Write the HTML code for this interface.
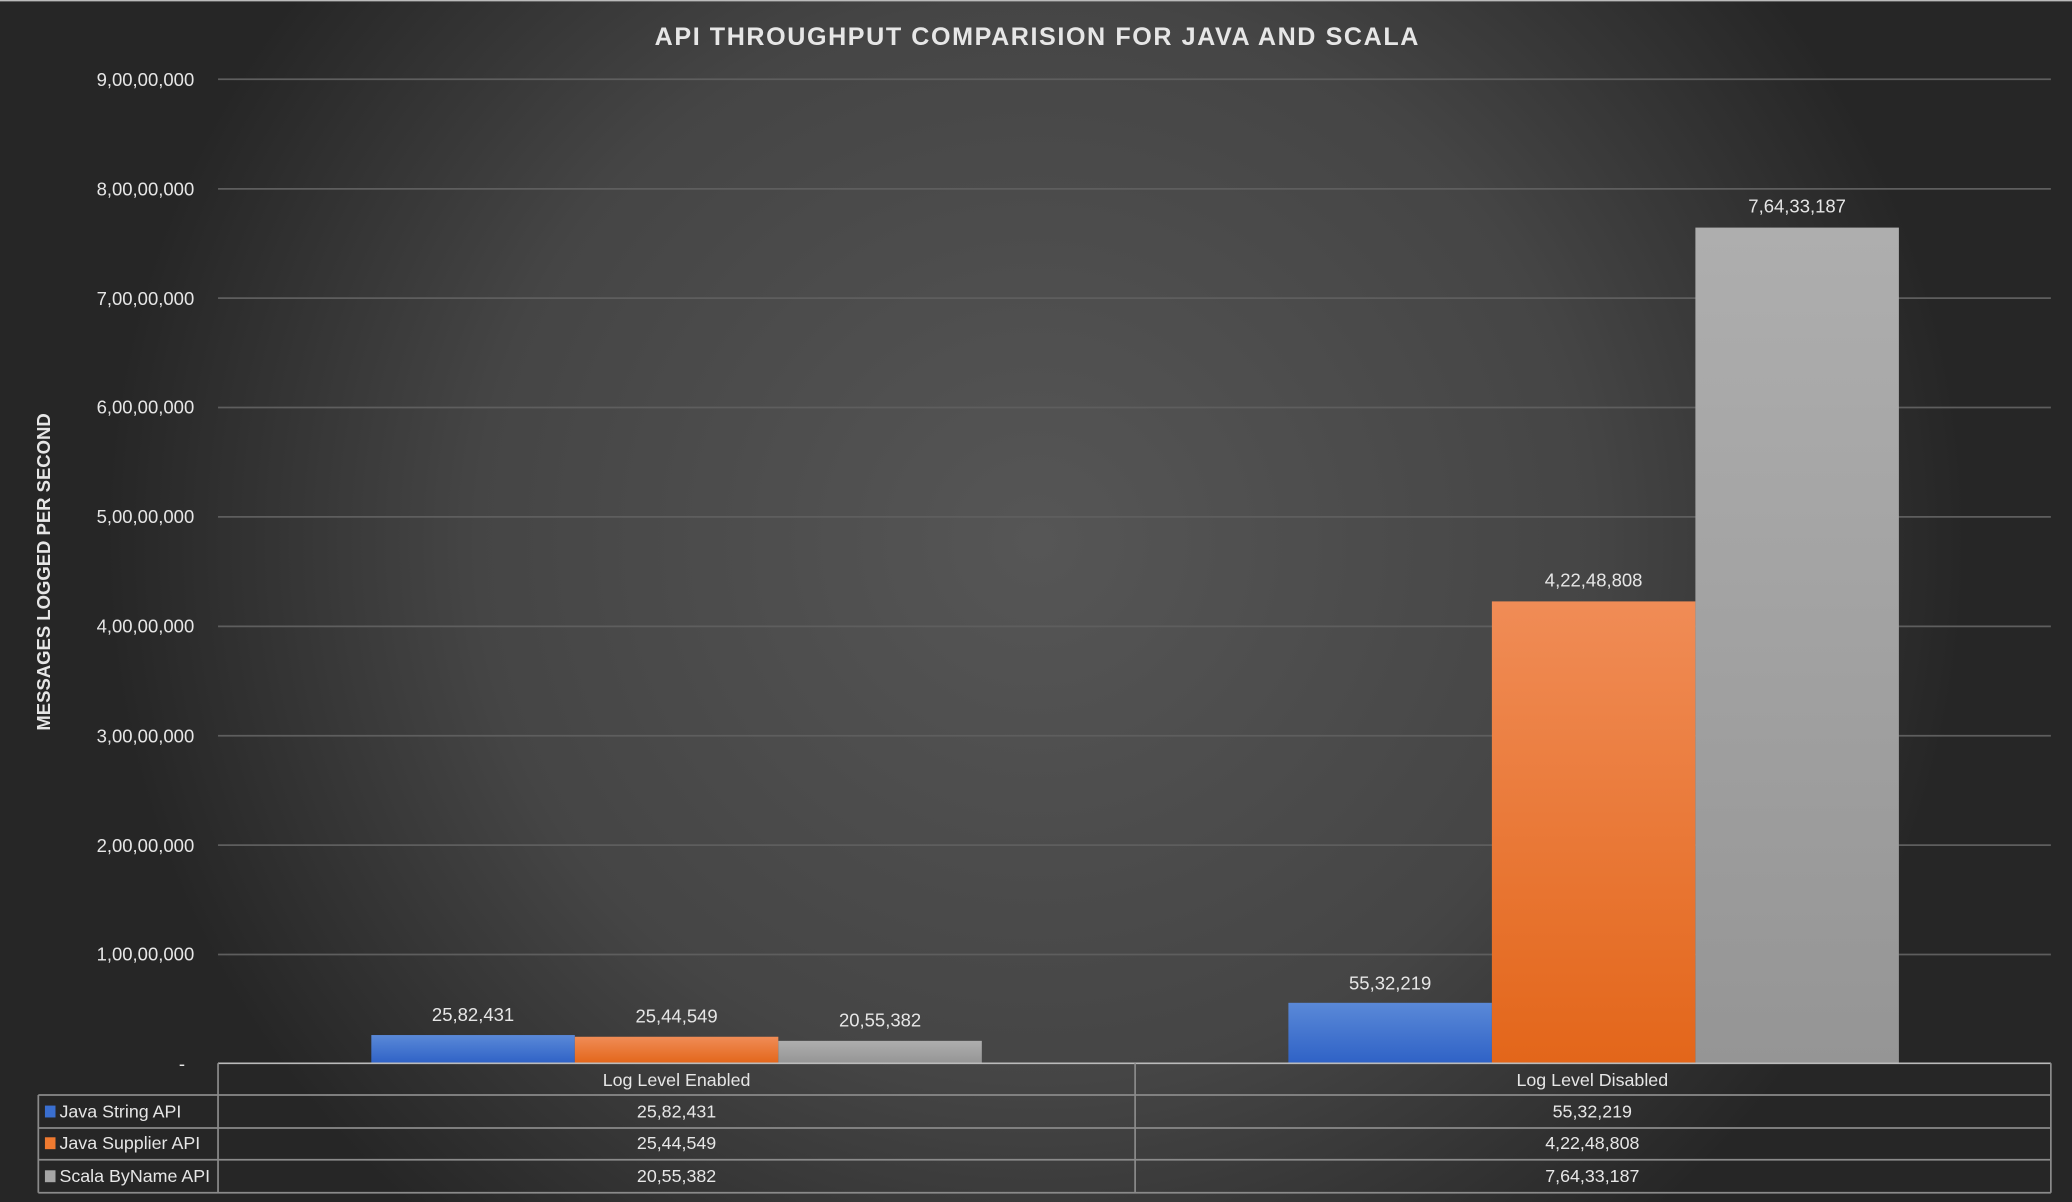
<!DOCTYPE html>
<html><head><meta charset="utf-8"><style>
html,body{margin:0;padding:0;background:#2a2a2a;overflow:hidden}
svg{display:block}
text{font-family:"Liberation Sans",sans-serif;fill:#e6e6e6}
</style></head><body>
<svg width="2072" height="1202" viewBox="0 0 1568 910" preserveAspectRatio="none" xmlns="http://www.w3.org/2000/svg">
<defs>
<radialGradient id="bg" cx="0.5" cy="0.45" r="0.75" gradientTransform="translate(0.5 0.45) scale(0.6 1) translate(-0.5 -0.45)">
<stop offset="0" stop-color="#565656"/><stop offset="0.6" stop-color="#454545"/><stop offset="1" stop-color="#262626"/>
</radialGradient>
<linearGradient id="bl" x1="0" y1="0" x2="0" y2="1"><stop offset="0" stop-color="#5a89d8"/><stop offset="1" stop-color="#2f62c6"/></linearGradient>
<linearGradient id="or" x1="0" y1="0" x2="0" y2="1"><stop offset="0" stop-color="#f08c56"/><stop offset="1" stop-color="#e3661a"/></linearGradient>
<linearGradient id="gr" x1="0" y1="0" x2="0" y2="1"><stop offset="0" stop-color="#aeaeae"/><stop offset="1" stop-color="#959595"/></linearGradient>
</defs>
<rect x="0" y="0" width="1568" height="910" fill="url(#bg)"/>
<line x1="0" y1="0.5" x2="1568" y2="0.5" stroke="#bbb" stroke-width="1"/>
<text x="785" y="34" text-anchor="middle" font-size="19" font-weight="bold" letter-spacing="1.2" fill="#fff">API THROUGHPUT COMPARISION FOR JAVA AND SCALA</text>
<g stroke="#5e5e5e" stroke-width="1.3">
<line x1="165" y1="60" x2="1552" y2="60"/><line x1="165" y1="143" x2="1552" y2="143"/>
<line x1="165" y1="225.7" x2="1552" y2="225.7"/><line x1="165" y1="308.5" x2="1552" y2="308.5"/>
<line x1="165" y1="391.3" x2="1552" y2="391.3"/><line x1="165" y1="474.2" x2="1552" y2="474.2"/>
<line x1="165" y1="557" x2="1552" y2="557"/><line x1="165" y1="639.8" x2="1552" y2="639.8"/>
<line x1="165" y1="722.6" x2="1552" y2="722.6"/>
</g>
<g font-size="14" text-anchor="end">
<text x="147" y="65">9,00,00,000</text><text x="147" y="148">8,00,00,000</text>
<text x="147" y="231">7,00,00,000</text><text x="147" y="313">6,00,00,000</text>
<text x="147" y="396">5,00,00,000</text><text x="147" y="479">4,00,00,000</text>
<text x="147" y="562">3,00,00,000</text><text x="147" y="645">2,00,00,000</text>
<text x="147" y="727">1,00,00,000</text><text x="140" y="810">-</text>
</g>
<text transform="translate(38 433) rotate(-90)" text-anchor="middle" font-size="14" font-weight="bold">MESSAGES LOGGED PER SECOND</text>
<rect x="281" y="783.6" width="154" height="21.4" fill="url(#bl)"/>
<rect x="435" y="784.9" width="154" height="20.1" fill="url(#or)"/>
<rect x="589" y="788" width="154" height="17" fill="url(#gr)"/>
<rect x="975" y="759.2" width="154" height="45.8" fill="url(#bl)"/>
<rect x="1129" y="455.3" width="154" height="349.7" fill="url(#or)"/>
<rect x="1283" y="172.3" width="154" height="632.7" fill="url(#gr)"/>
<g font-size="14" text-anchor="middle">
<text x="358" y="773">25,82,431</text><text x="512" y="774">25,44,549</text><text x="666" y="777">20,55,382</text>
<text x="1052" y="749">55,32,219</text><text x="1206" y="444">4,22,48,808</text><text x="1360" y="161">7,64,33,187</text>
</g>
<g stroke="#8a8a8a" stroke-width="1.3" fill="none">
<line x1="165" y1="805" x2="1552" y2="805" stroke="#bbb"/>
<line x1="29" y1="829" x2="1552" y2="829"/><line x1="29" y1="854" x2="1552" y2="854"/>
<line x1="29" y1="878" x2="1552" y2="878"/><line x1="29" y1="903" x2="1552" y2="903"/>
<line x1="29" y1="829" x2="29" y2="903"/><line x1="165" y1="805" x2="165" y2="903"/>
<line x1="859" y1="805" x2="859" y2="903"/><line x1="1552" y1="805" x2="1552" y2="903"/>
</g>
<rect x="34" y="837" width="8" height="9" fill="#3a6fd0"/>
<rect x="34" y="861" width="8" height="9" fill="#ef7a30"/>
<rect x="34" y="886" width="8" height="9" fill="#a5a5a5"/>
<g font-size="13.5">
<text x="45" y="846">Java String API</text><text x="45" y="870">Java Supplier API</text><text x="45" y="895">Scala ByName API</text>
</g>
<g font-size="13.5" text-anchor="middle">
<text x="512" y="822">Log Level Enabled</text><text x="1205" y="822">Log Level Disabled</text>
<text x="512" y="846">25,82,431</text><text x="1205" y="846">55,32,219</text>
<text x="512" y="870">25,44,549</text><text x="1205" y="870">4,22,48,808</text>
<text x="512" y="895">20,55,382</text><text x="1205" y="895">7,64,33,187</text>
</g>
</svg>
</body></html>
